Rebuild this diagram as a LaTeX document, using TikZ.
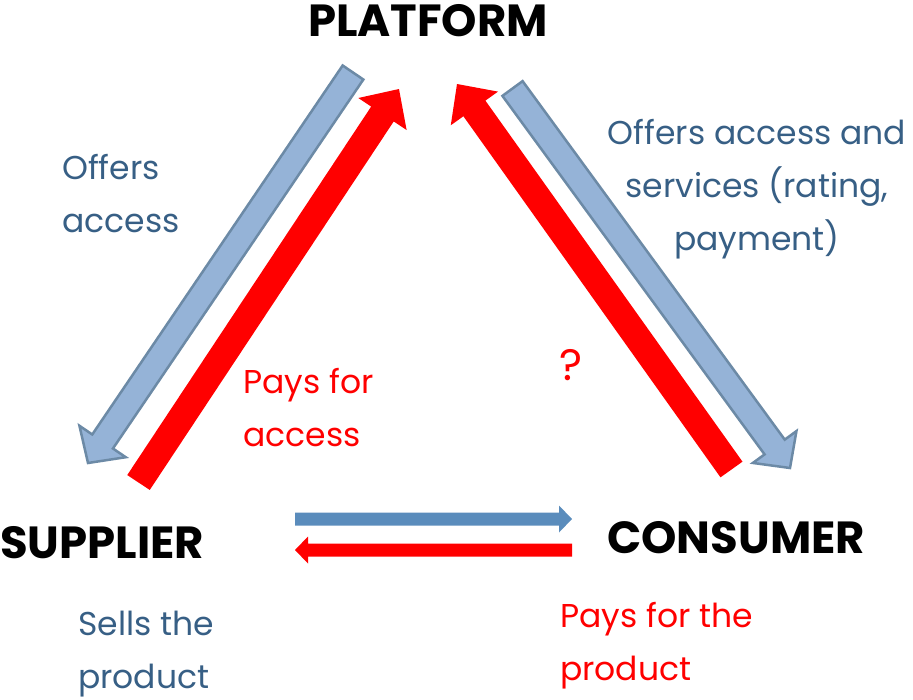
\documentclass[tikz,border=0pt]{standalone}
\usepackage{fontspec}
\setmainfont{Poppins}
\usetikzlibrary{calc}

\definecolor{shaftblue}{HTML}{95B3D7}
\definecolor{rimblue}{HTML}{6C8AA6}
\definecolor{flowblue}{HTML}{5A8CBC}
\definecolor{textblue}{HTML}{375F85}

% block arrow: style, from, to, half shaft, half head, head length
\newcommand\blockarrow[6]{%
  \coordinate (hb) at ($(#3)!#6!(#2)$);
  \path[#1] ($(#2)!#4!90:(#3)$) -- ($(hb)!#4!90:(#3)$) -- ($(hb)!#5!90:(#3)$)
    -- (#3) -- ($(hb)!#5!-90:(#3)$) -- ($(hb)!#4!-90:(#3)$)
    -- ($(#2)!#4!-90:(#3)$) -- cycle;}

\begin{document}
\begin{tikzpicture}[x=1pt,y=-1pt,
  big/.style={font=\fontsize{45}{54}\selectfont\bfseries,inner sep=0},
  note/.style={font=\fontsize{33}{53}\selectfont,inner sep=0,align=left},
  offer/.style={fill=shaftblue,draw=rimblue,line width=2.5pt},
  pay/.style={fill=red},
  goods/.style={fill=flowblue}]
  \useasboundingbox (0,0) rectangle (913,699);

  % the three parties
  \node[big,anchor=base]      (platform) at (428,36)  {PLATFORM};
  \node[big,anchor=base west] (supplier) at (0,558)   {SUPPLIER};
  \node[big,anchor=base west] (consumer) at (607,553) {CONSUMER};

  % what flows where (base = last line)
  \node[note,text=textblue,anchor=base west] (offsup) at (62,232) {Offers\\access};
  \node[note,text=textblue,anchor=base,align=center] (offcon) at (757,250)
    {Offers access and\\services (rating,\\payment)};
  \node[note,text=red,anchor=base west] (paysup) at (243,446) {Pays for\\access};
  \node[font=\fontsize{44}{50}\selectfont,text=red,inner sep=0,anchor=base]
    (unknown) at (571,380) {?};
  \node[note,text=textblue,anchor=base west] (sells) at (78,688) {Sells the\\product};
  \node[note,text=red,anchor=base west] (payprod) at (560,680) {Pays for the\\product};

  % arrow ends
  \coordinate (ps1) at (353,72.5);  \coordinate (ps2) at (88,463);
  \coordinate (sp1) at (138.5,482.5); \coordinate (sp2) at (399,89);
  \coordinate (cp1) at (731.5,469.5); \coordinate (cp2) at (457,84);
  \coordinate (pc1) at (512.5,88.5);  \coordinate (pc2) at (790,468);
  \coordinate (sc1) at (295,519); \coordinate (sc2) at (572,519);
  \coordinate (cs1) at (572,550); \coordinate (cs2) at (295,550);

  \blockarrow{offer}{ps1}{ps2}{12.5pt}{28pt}{26pt}
  \blockarrow{pay}{sp1}{sp2}{13.5pt}{29pt}{30pt}
  \blockarrow{pay}{cp1}{cp2}{13.5pt}{29pt}{30pt}
  \blockarrow{offer}{pc1}{pc2}{12.5pt}{27pt}{26pt}
  \blockarrow{goods}{sc1}{sc2}{6.5pt}{13.5pt}{13pt}
  \blockarrow{pay}{cs1}{cs2}{6.5pt}{13.5pt}{13pt}
\end{tikzpicture}
\end{document}
